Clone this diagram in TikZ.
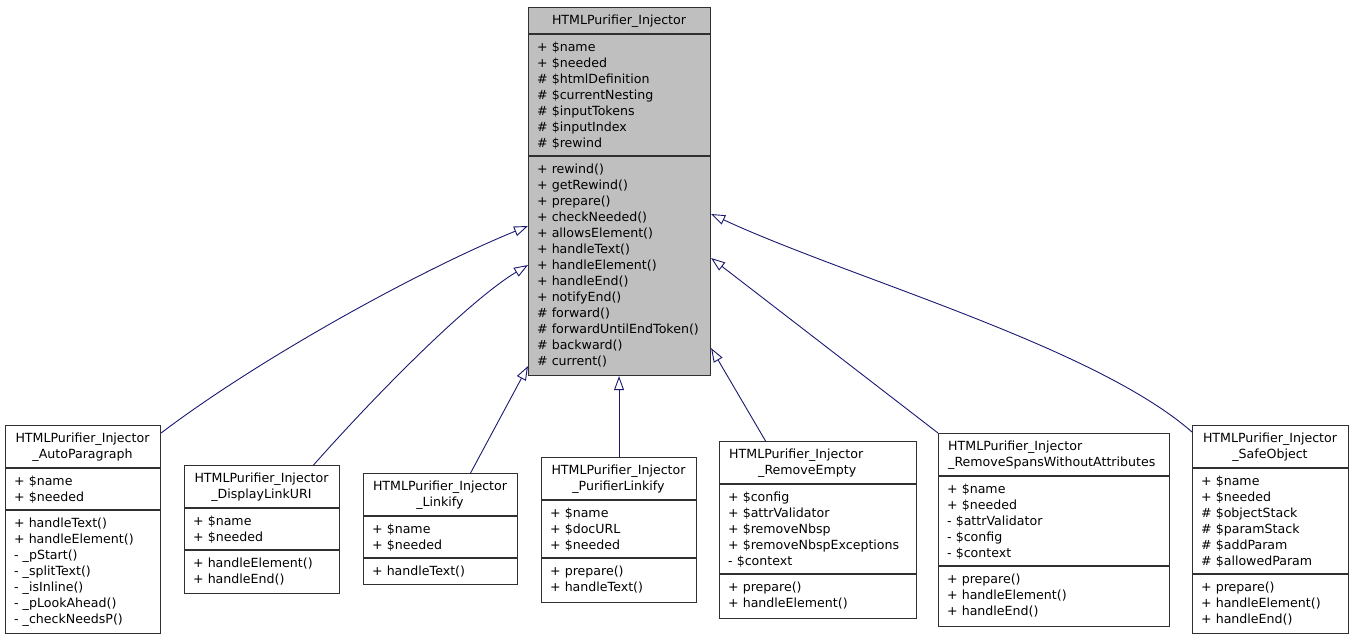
\documentclass[tikz,border=0pt]{standalone}
\usepackage{fontspec}
\setmainfont{DejaVu Sans}
\usetikzlibrary{arrows.meta}
\definecolor{edgeblue}{HTML}{191970}
\definecolor{boxline}{HTML}{303030}
\definecolor{maingray}{HTML}{BFBFBF}
\newcommand{\ls}{\rule[-4.5pt]{0pt}{16pt}}
\begin{document}
\begin{tikzpicture}[x=1pt,y=-1pt,
  cls/.style={draw=boxline, line width=1.1pt, fill=white, inner sep=0, anchor=north west},
  mainbox/.style={cls, fill=maingray},
  divider/.style={draw=boxline, line width=1.1pt},
  txt/.style={inner sep=0, align=left, anchor=north west, font=\fontsize{12.6pt}{16pt}\selectfont},
  ttl/.style={inner sep=0, align=center, anchor=north, font=\fontsize{12.6pt}{16pt}\selectfont},
  inh/.style={draw=edgeblue, line width=0.9pt, -{Triangle[length=14pt, width=10pt, fill=white, line width=0.9pt]}}
]
\useasboundingbox (0,0) rectangle (1352,640);

% ---------- main class ----------
\node[mainbox, minimum width=182pt, minimum height=368pt] (main) at (528,7) {};
\draw[divider] (528,34) -- (710,34);
\draw[divider] (528,156) -- (710,156);
\node[ttl] (mainT) at (619,12.5) {\ls HTMLPurifier\_Injector};
\node[txt] (mainA) at (537,39.5) {\ls + \$name\\\ls + \$needed\\\ls \# \$htmlDefinition\\\ls \# \$currentNesting\\\ls \# \$inputTokens\\\ls \# \$inputIndex\\\ls \# \$rewind};
\node[txt] (mainM) at (537,161.5) {\ls + rewind()\\\ls + getRewind()\\\ls + prepare()\\\ls + checkNeeded()\\\ls + allowsElement()\\\ls + handleText()\\\ls + handleElement()\\\ls + handleEnd()\\\ls + notifyEnd()\\\ls \# forward()\\\ls \# forwardUntilEndToken()\\\ls \# backward()\\\ls \# current()};

% ---------- AutoParagraph ----------
\node[cls, minimum width=155pt, minimum height=208pt] (auto) at (5,425) {};
\draw[divider] (5,468) -- (160,468);
\draw[divider] (5,510) -- (160,510);
\node[ttl] (autoT) at (82.5,430.5) {\ls HTMLPurifier\_Injector\\\ls \_AutoParagraph};
\node[txt] (autoA) at (14,473.5) {\ls + \$name\\\ls + \$needed};
\node[txt] (autoM) at (14,515.5) {\ls + handleText()\\\ls + handleElement()\\\ls - \_pStart()\\\ls - \_splitText()\\\ls - \_isInline()\\\ls - \_pLookAhead()\\\ls - \_checkNeedsP()};

% ---------- DisplayLinkURI ----------
\node[cls, minimum width=155pt, minimum height=128pt] (disp) at (184,465) {};
\draw[divider] (184,508) -- (339,508);
\draw[divider] (184,550) -- (339,550);
\node[ttl] (dispT) at (261.5,470.5) {\ls HTMLPurifier\_Injector\\\ls \_DisplayLinkURI};
\node[txt] (dispA) at (193,513.5) {\ls + \$name\\\ls + \$needed};
\node[txt] (dispM) at (193,555.5) {\ls + handleElement()\\\ls + handleEnd()};

% ---------- Linkify ----------
\node[cls, minimum width=154pt, minimum height=111pt] (link) at (363,473) {};
\draw[divider] (363,516) -- (517,516);
\draw[divider] (363,558) -- (517,558);
\node[ttl] (linkT) at (440,478.5) {\ls HTMLPurifier\_Injector\\\ls \_Linkify};
\node[txt] (linkA) at (372,521.5) {\ls + \$name\\\ls + \$needed};
\node[txt] (linkM) at (372,563.5) {\ls + handleText()};

% ---------- PurifierLinkify ----------
\node[cls, minimum width=155pt, minimum height=145pt] (purl) at (541,457) {};
\draw[divider] (541,500) -- (696,500);
\draw[divider] (541,558) -- (696,558);
\node[ttl] (purlT) at (618.5,462.5) {\ls HTMLPurifier\_Injector\\\ls \_PurifierLinkify};
\node[txt] (purlA) at (550,505.5) {\ls + \$name\\\ls + \$docURL\\\ls + \$needed};
\node[txt] (purlM) at (550,563.5) {\ls + prepare()\\\ls + handleText()};

% ---------- RemoveEmpty ----------
\node[cls, minimum width=197pt, minimum height=177pt] (remE) at (719,441) {};
\draw[divider] (719,484) -- (916,484);
\draw[divider] (719,574) -- (916,574);
\node[txt] (remET) at (729,446.5) {\ls HTMLPurifier\_Injector\\\ls\hspace*{29pt}\_RemoveEmpty};
\node[txt] (remEA) at (728,489.5) {\ls + \$config\\\ls + \$attrValidator\\\ls + \$removeNbsp\\\ls + \$removeNbspExceptions\\\ls - \$context};
\node[txt] (remEM) at (728,579.5) {\ls + prepare()\\\ls + handleElement()};

% ---------- RemoveSpansWithoutAttributes ----------
\node[cls, minimum width=231pt, minimum height=193pt] (span) at (938,433) {};
\draw[divider] (938,476) -- (1169,476);
\draw[divider] (938,566) -- (1169,566);
\node[txt] (spanT) at (948,438.5) {\ls HTMLPurifier\_Injector\\\ls \_RemoveSpansWithoutAttributes};
\node[txt] (spanA) at (947,481.5) {\ls + \$name\\\ls + \$needed\\\ls - \$attrValidator\\\ls - \$config\\\ls - \$context};
\node[txt] (spanM) at (947,571.5) {\ls + prepare()\\\ls + handleElement()\\\ls + handleEnd()};

% ---------- SafeObject ----------
\node[cls, minimum width=156pt, minimum height=208pt] (safe) at (1192,425) {};
\draw[divider] (1192,468) -- (1348,468);
\draw[divider] (1192,574) -- (1348,574);
\node[ttl] (safeT) at (1270,430.5) {\ls HTMLPurifier\_Injector\\\ls \_SafeObject};
\node[txt] (safeA) at (1201,473.5) {\ls + \$name\\\ls + \$needed\\\ls \# \$objectStack\\\ls \# \$paramStack\\\ls \# \$addParam\\\ls \# \$allowedParam};
\node[txt] (safeM) at (1201,579.5) {\ls + prepare()\\\ls + handleElement()\\\ls + handleEnd()};

% ---------- inheritance connectors ----------
\draw[inh] ([yshift=-8pt]auto.north east) .. controls (260,358) and (420,270) .. ([yshift=-219pt]main.north west);
\draw[inh] ([xshift=51.5pt]disp.north) .. controls (380,390) and (470,300) .. ([yshift=-258pt]main.north west);
\draw[inh] ([xshift=30pt]link.north) -- ([yshift=10pt]main.south west);
\draw[inh] (purl.north) -- (purl.north |- main.south);
\draw[inh] ([xshift=-52.5pt]remE.north) -- ([yshift=28pt]main.south east);
\draw[inh] (span.north west) -- ([yshift=-251pt]main.north east);
\draw[inh] ([yshift=-7pt]safe.north west) .. controls (1094,346) and (849,278) .. ([yshift=-207pt]main.north east);
\end{tikzpicture}
\end{document}
